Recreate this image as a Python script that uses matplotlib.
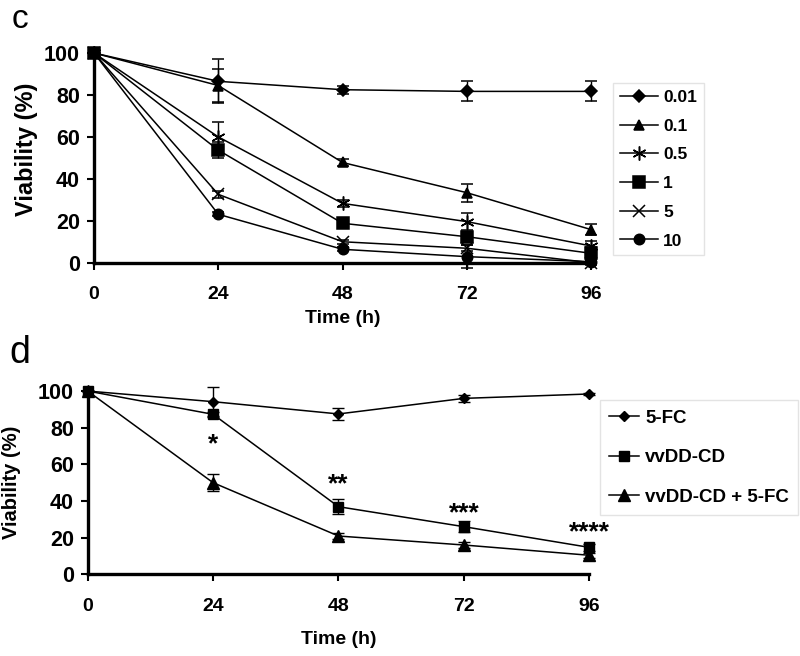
import matplotlib
matplotlib.use("Agg")
import matplotlib.pyplot as plt
from matplotlib.lines import Line2D

plt.rcParams['font.family'] = ['Liberation Sans', 'DejaVu Sans']
plt.rcParams['font.weight'] = 'bold'

# time points (h)
time = [0, 24, 48, 72, 96]

# panel c: viability (%) for each dose
dose_labels = ['0.01', '0.1', '0.5', '1', '5', '10']
v_001 = [100, 86.5, 82.5, 81.7, 81.7]
e_001 = [0, 10.5, 2.0, 4.8, 4.8]
v_01 = [100, 84.5, 47.8, 33.4, 15.8]
e_01 = [0, 8.0, 1.8, 4.3, 2.8]
v_05 = [100, 60.0, 28.3, 19.6, 8.0]
e_05 = [0, 7.0, 1.5, 4.0, 2.5]
v_1 = [100, 53.7, 18.8, 12.4, 4.5]
e_1 = [0, 4.0, 1.5, 2.0, 3.0]
v_5 = [100, 32.6, 10.0, 6.9, 0.0]
e_5 = [0, 1.5, 1.0, 1.5, 1.0]
v_10 = [100, 23.1, 6.4, 2.9, 0.5]
e_10 = [0, 1.0, 1.0, 5.5, 1.0]

# panel d
group_labels = ['5-FC', 'vvDD-CD', 'vvDD-CD + 5-FC']
v_fc = [100, 94.2, 87.5, 96.0, 98.4]
e_fc = [0, 8.0, 3.5, 2.0, 0.8]
v_cd = [100, 87.3, 36.9, 26.0, 14.7]
e_cd = [0, 1.5, 4.0, 3.0, 2.0]
v_cdfc = [100, 50.0, 20.9, 16.0, 10.4]
e_cdfc = [0, 4.5, 1.5, 1.5, 1.5]
stars = ['*', '**', '***', '****']
star_x = [24, 48, 72, 96]
star_y = [71, 49, 33.5, 23]

fig = plt.figure(figsize=(8, 6.56), dpi=100)
ax0 = fig.add_axes([0.1175, 0.5995, 0.6213, 0.3197])
ax1 = fig.add_axes([0.1096, 0.1245, 0.6270, 0.2794])


def style_axes(ax):
    ax.set_xlim(0, 96)
    ax.set_ylim(0, 100)
    ax.set_xticks(time)
    ax.set_yticks([0, 20, 40, 60, 80, 100])
    for s in ['top', 'right']:
        ax.spines[s].set_visible(False)
    for s in ['left', 'bottom']:
        ax.spines[s].set_linewidth(2.4)
    ax.tick_params(axis='both', direction='out', width=1.5)
    ax.tick_params(axis='x', length=5, pad=12, labelsize=14)
    ax.tick_params(axis='y', length=5, pad=5, labelsize=15.5)
    for lab in ax.get_xticklabels() + ax.get_yticklabels():
        lab.set_fontweight('bold')


series_c = [
    (v_001, e_001, 'D', 6),
    (v_01, e_01, '^', 6.5),
    (v_05, e_05, (6, 2, 0), 10),
    (v_1, e_1, 's', 9),
    (v_5, e_5, 'x', 9),
    (v_10, e_10, 'o', 7.5),
]
handles0 = []
for (vals, errs, mk, ms), lab in zip(series_c, dose_labels):
    ax0.errorbar(time, vals, yerr=errs, color='black', lw=1.1, marker=mk,
                 markersize=ms, mew=1.1, elinewidth=1.0, capsize=4.5,
                 capthick=1.0, clip_on=False)
    handles0.append(Line2D([], [], color='black', lw=1.1, marker=mk,
                           markersize=ms, mew=1.1, label=lab))
style_axes(ax0)
ax0.set_ylabel('Viability (%)', fontsize=17, fontweight='bold')
ax0.yaxis.set_label_coords(-0.113, 0.54)
ax0.set_xlabel('Time (h)', fontsize=14, fontweight='bold', va='center')
ax0.xaxis.set_label_coords(0.5, -0.264)
leg0 = ax0.legend(handles=handles0, loc='upper left',
                  bbox_to_anchor=(0.766, 0.8735),
                  bbox_transform=fig.transFigure, borderaxespad=0,
                  prop={'size': 12.5, 'weight': 'bold'}, labelspacing=0.78,
                  handlelength=2.2, handletextpad=0.3, borderpad=0.4,
                  fancybox=False, frameon=True)
leg0.get_frame().set_edgecolor('#dddddd')
leg0.get_frame().set_linewidth(1.0)

series_d = [
    (v_fc, e_fc, 'D', 5),
    (v_cd, e_cd, 's', 6.5),
    (v_cdfc, e_cdfc, '^', 8),
]
handles1 = []
for (vals, errs, mk, ms), lab in zip(series_d, group_labels):
    ax1.errorbar(time, vals, yerr=errs, color='black', lw=1.1, marker=mk,
                 markersize=ms, elinewidth=1.0, capsize=4, capthick=1.0,
                 clip_on=False)
    handles1.append(Line2D([], [], color='black', lw=1.1, marker=mk,
                           markersize=ms, label=lab))
for x, y, s in zip(star_x, star_y, stars):
    ax1.text(x, y, s, ha='center', va='center', fontsize=19, fontweight='bold')
style_axes(ax1)
ax1.set_ylabel('Viability (%)', fontsize=14.5, fontweight='bold')
ax1.yaxis.set_label_coords(-0.133, 0.5)
ax1.set_xlabel('Time (h)', fontsize=14, fontweight='bold', va='center')
ax1.xaxis.set_label_coords(0.5, -0.358)
leg1 = ax1.legend(handles=handles1, loc='upper left',
                  bbox_to_anchor=(0.75, 0.3902),
                  bbox_transform=fig.transFigure, borderaxespad=0,
                  prop={'size': 13.5, 'weight': 'bold'}, labelspacing=1.2,
                  handlelength=1.6, handletextpad=0.3, borderpad=0.5,
                  fancybox=False, frameon=True)
leg1.get_frame().set_edgecolor('#dddddd')
leg1.get_frame().set_linewidth(1.0)

fig.text(0.014, 0.994, 'c', fontsize=24, fontweight='normal', va='top')
fig.text(0.012, 0.49, 'd', fontsize=27, fontweight='normal', va='top')

fig.savefig('out.png', dpi=100)
